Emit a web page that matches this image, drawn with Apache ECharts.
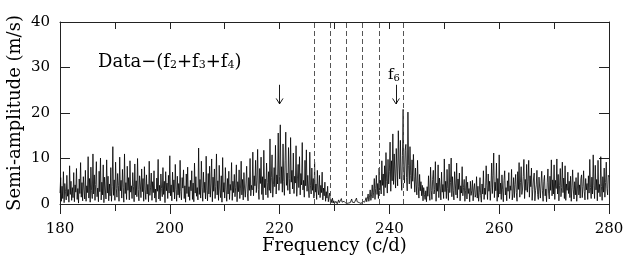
<!DOCTYPE html>
<html>
<head>
<meta charset="utf-8">
<script src="https://cdn.jsdelivr.net/npm/echarts@6/dist/echarts.min.js"></script>
<style>html,body{margin:0;padding:0;background:#fff;}#c{width:624px;height:260px;}</style>
</head>
<body>
<div id="c"></div>
<script>
// Frequency range of the amplitude spectrum (c/d)
const freqStart = 180;
const freqEnd = 280;
// Semi-amplitude (m/s), 40 values per 5 c/d
const amplitude = [
  2.4,5.8,0.6,3.9,1.2,7.1,0.3,4.5,2.8,0.9,6.3,1.7,3.2,0.4,8.4,2.1,5.0,0.8,3.6,1.4,
  6.9,0.5,4.2,2.6,7.8,1.0,3.4,0.2,5.5,2.3,9.1,1.5,4.7,0.7,6.0,3.1,1.1,7.4,0.6,4.0,
  2.5,10.4,1.3,5.6,0.4,8.1,3.0,1.2,11.0,2.2,6.4,0.8,4.3,9.3,1.6,3.5,0.5,7.2,2.7,10.1,
  0.9,4.8,2.0,8.6,0.3,5.9,3.3,1.1,9.7,2.4,6.1,0.7,4.4,1.8,8.0,0.6,3.8,12.6,1.9,5.3,
  0.8,9.2,3.4,1.5,6.7,4.1,0.6,10.3,2.9,5.2,1.3,7.6,3.6,0.4,11.0,2.3,4.7,1.0,8.3,3.0,
  5.8,0.9,9.5,2.6,4.0,1.2,6.9,3.8,0.5,8.8,2.0,5.1,1.6,10.0,3.2,0.7,6.2,4.4,1.4,7.7,
  2.7,5.6,0.6,8.2,3.1,1.0,6.4,2.2,4.3,0.5,9.4,1.9,3.7,6.8,0.8,4.9,2.5,7.3,1.3,3.3,
  0.4,5.7,2.8,9.8,1.1,4.1,0.7,6.6,3.4,1.6,8.0,2.1,5.0,0.3,7.1,2.9,4.6,1.2,6.3,2.4,
  10.6,1.8,4.2,0.7,7.0,2.6,5.3,1.1,8.7,3.2,0.6,6.1,2.0,4.5,1.4,9.6,2.8,0.9,5.8,3.5,
  7.5,1.2,4.0,0.4,6.6,2.3,8.1,1.6,3.8,0.8,5.2,2.9,7.3,1.0,4.6,0.5,9.0,2.4,6.0,1.7,
  3.6,0.9,12.3,2.1,5.4,1.3,9.4,3.7,0.6,7.0,2.5,4.8,1.1,10.5,3.0,0.7,6.7,2.2,8.3,1.5,
  4.4,9.9,0.5,5.9,2.8,7.7,1.2,3.9,11.0,2.0,5.1,0.8,8.5,3.3,1.4,6.2,0.4,10.2,2.6,4.7,
  1.3,8.0,3.1,0.6,5.6,2.2,7.2,1.0,4.3,3.0,9.1,0.8,5.0,2.5,6.5,1.6,3.7,8.6,0.5,4.9,
  2.7,7.5,1.2,3.5,9.4,2.0,5.4,0.9,6.9,3.3,1.5,4.6,8.3,2.4,0.7,5.8,3.0,10.0,1.8,4.1,
  3.1,11.4,1.8,6.2,4.0,9.6,2.5,5.1,12.0,3.2,1.0,7.8,4.5,10.3,2.1,6.0,0.9,11.8,3.6,5.5,
  2.0,9.0,4.7,1.4,7.1,3.0,14.3,2.4,5.8,10.8,1.5,4.2,8.0,3.8,12.9,2.2,6.4,4.4,15.6,3.0,
  6.0,17.4,4.5,8.2,2.6,13.2,5.0,1.9,9.5,15.8,4.1,6.8,3.0,12.4,5.6,2.2,14.6,4.8,7.4,3.3,
  11.2,2.3,6.1,4.6,12.8,1.7,5.5,8.7,3.6,10.4,2.0,6.7,4.2,13.5,3.1,5.2,1.5,9.6,4.0,11.9,
  2.8,6.3,3.5,1.4,11.4,4.0,2.2,7.9,3.0,5.6,1.3,9.2,2.6,4.4,1.0,7.4,3.1,2.0,6.3,1.4,
  4.1,2.5,7.0,0.9,3.5,1.8,4.8,0.6,2.7,1.3,3.9,0.5,1.6,2.4,0.4,1.0,0.3,1.3,0.2,0.7,
  0.1,0.3,0.6,0.2,0.05,0.4,0.9,0.3,0.1,0.5,1.2,0.4,0.1,0.2,0.6,0.8,0.2,0.1,0.3,0.1,
  0.2,0.4,0.1,0.3,0.7,1.1,0.4,0.1,0.2,0.3,0.1,0.6,1.3,0.5,0.2,0.8,0.3,0.1,0.2,0.1,
  0.3,0.6,0.2,1.0,0.4,0.7,1.4,0.5,0.9,2.2,0.6,1.5,3.1,0.8,2.0,4.2,1.3,2.6,5.6,1.0,
  3.4,6.3,2.1,4.5,1.2,7.9,3.0,5.2,2.2,9.5,4.1,6.6,1.8,8.4,3.6,11.3,5.0,2.4,9.8,4.4,
  7.2,13.6,2.8,9.5,5.1,15.4,4.3,11.0,6.8,3.5,12.2,7.7,4.0,16.1,8.8,5.5,14.0,6.2,3.0,10.6,
  20.8,7.4,4.6,11.8,13.1,5.8,2.9,20.2,8.5,4.4,12.6,6.3,3.4,9.7,5.0,10.9,6.1,2.6,7.9,4.2,
  2.0,9.6,3.8,1.3,6.5,2.9,4.9,1.8,4.1,0.7,3.6,2.1,1.0,2.9,0.5,3.8,1.7,6.2,2.4,0.8,
  8.1,3.0,1.0,5.4,7.4,2.2,3.2,9.3,0.6,4.6,2.8,8.6,1.4,5.7,3.5,0.9,7.0,2.6,4.3,1.2,
  9.9,2.7,5.0,1.2,7.6,3.4,0.8,8.8,2.5,4.7,10.1,1.6,6.0,3.0,0.9,7.1,4.4,2.0,9.0,1.3,
  5.5,3.2,6.8,0.7,4.0,2.4,8.2,1.8,3.6,5.4,0.6,2.9,6.1,1.1,4.8,2.3,3.4,0.5,5.0,1.9,
  2.9,5.2,0.7,3.3,4.5,1.5,2.0,6.0,1.3,3.9,0.6,2.6,5.8,1.8,0.4,4.4,2.2,7.3,1.0,3.5,
  2.1,8.4,4.0,1.0,6.6,2.8,5.0,0.8,3.7,9.0,2.3,6.2,11.2,1.4,4.8,2.9,9.0,0.6,5.6,1.5,
  10.8,2.2,4.6,1.0,6.4,3.1,0.5,5.2,7.3,2.0,3.6,0.7,5.1,2.8,6.9,1.2,4.0,3.0,7.6,0.9,
  2.4,5.8,1.4,4.3,6.5,2.5,0.6,7.1,3.2,9.1,1.5,4.7,8.2,2.1,3.3,6.0,9.8,1.2,5.4,3.0,
  8.7,2.6,4.9,9.6,1.5,6.2,3.8,7.9,0.8,3.2,5.5,6.8,0.7,2.9,4.2,7.4,2.1,1.0,5.9,3.5,
  1.3,4.6,7.2,2.9,0.6,5.0,6.3,1.8,3.3,0.5,4.8,7.7,2.4,1.1,6.1,3.0,9.7,1.8,5.3,2.2,
  8.6,1.0,5.2,3.4,9.9,2.2,6.5,0.7,4.1,7.8,1.6,3.6,9.2,2.5,5.7,1.2,8.4,0.8,4.4,3.0,
  7.0,2.3,5.0,1.4,6.1,0.6,3.7,7.5,3.1,1.1,4.9,2.0,5.8,0.6,3.3,6.9,2.0,4.2,1.3,5.5,
  6.4,1.4,3.8,7.3,2.7,0.9,5.6,3.1,4.5,1.0,6.2,2.4,9.8,3.6,1.2,5.9,2.2,10.8,4.0,1.2,
  8.5,3.1,5.4,0.7,9.6,2.5,4.3,1.6,10.4,3.8,0.8,6.0,2.6,7.9,1.5,4.7,9.2,3.4,2.0,6.3,
  6.0
];
// Dashed reference frequencies (c/d)
const dashedFreqs = [226.4, 229.3, 232.2, 235.1, 238.1, 242.5];
// Arrow markers: frequency, tail amplitude, head amplitude
const arrowFreqs = [220.0, 241.2];
const arrowTop = 26.2;
const arrowTip = 22.0;
// Axis ticks
const xTicks = [180, 200, 220, 240, 260, 280];
const yTicks = [0, 10, 20, 30, 40];

const freqStep = (freqEnd - freqStart) / (amplitude.length - 1);
const seriesData = amplitude.map((v, i) => [freqStart + i * freqStep, v]);

const arrowLines = [];
arrowFreqs.forEach(f => {
  arrowLines.push([{coord: [f, arrowTop]}, {coord: [f, arrowTip]}]);
  arrowLines.push([{coord: [f - 0.62, arrowTip + 1.2]}, {coord: [f, arrowTip]}]);
  arrowLines.push([{coord: [f + 0.62, arrowTip + 1.2]}, {coord: [f, arrowTip]}]);
});

const FONT = 'DejaVu Serif';
const AX = '#222';
const chart = echarts.init(document.getElementById('c'), null, {renderer: 'canvas'});
chart.setOption({
  animation: false,
  backgroundColor: '#fff',
  grid: {left: 60, right: 15, top: 22, bottom: 56, containLabel: false, outerBoundsMode: 'none'},
  xAxis: [{
    type: 'value', min: xTicks[0], max: xTicks[xTicks.length - 1], interval: 20,
    axisLine: {show: true, lineStyle: {color: AX, width: 1}},
    axisTick: {show: true, inside: false, length: 10, lineStyle: {color: AX}},
    minorTick: {show: true, splitNumber: 2, length: 7, lineStyle: {color: AX}},
    splitLine: {show: false},
    axisLabel: {fontFamily: FONT, fontSize: 15, color: '#000', margin: 18},
    name: 'Frequency (c/d)', nameLocation: 'middle', nameGap: 33, nameMoveOverlap: false,
    nameTextStyle: {fontFamily: FONT, fontSize: 18, color: '#000'}
  }, {
    type: 'value', position: 'top', min: xTicks[0], max: xTicks[xTicks.length - 1], interval: 10,
    axisLine: {show: true, onZero: false, lineStyle: {color: AX, width: 1}},
    axisTick: {show: true, inside: true, length: 7, lineStyle: {color: AX}},
    axisLabel: {show: false}, splitLine: {show: false}
  }],
  yAxis: [{
    type: 'value', min: yTicks[0], max: yTicks[yTicks.length - 1], interval: 10,
    axisLine: {show: true, lineStyle: {color: AX, width: 1}},
    axisTick: {show: true, inside: true, length: 10, lineStyle: {color: AX}},
    splitLine: {show: false},
    axisLabel: {fontFamily: FONT, fontSize: 15, color: '#000', margin: 10},
    name: 'Semi-amplitude (m/s)', nameLocation: 'middle', nameGap: 36, nameMoveOverlap: false,
    nameTextStyle: {fontFamily: FONT, fontSize: 18, color: '#000'}
  }, {
    type: 'value', position: 'right', min: yTicks[0], max: yTicks[yTicks.length - 1], interval: 10,
    axisLine: {show: true, onZero: false, lineStyle: {color: AX, width: 1}},
    axisTick: {show: true, inside: true, length: 10, lineStyle: {color: AX}},
    axisLabel: {show: false}, splitLine: {show: false}
  }],
  series: [{
    type: 'line', xAxisIndex: 0, yAxisIndex: 0,
    data: seriesData, showSymbol: false, symbol: 'none', sampling: false,
    lineStyle: {color: '#000', width: 0.8},
    z: 3,
    markLine: {
      silent: true, symbol: ['none', 'none'], label: {show: false},
      lineStyle: {color: '#555', type: [5, 3], width: 1},
      data: dashedFreqs.map(f => ({xAxis: f}))
    }
  }, {
    type: 'line', xAxisIndex: 0, yAxisIndex: 0, data: [],
    markLine: {
      silent: true, symbol: ['none', 'none'], label: {show: false},
      lineStyle: {color: '#000', type: 'solid', width: 0.9},
      data: arrowLines
    }
  }],
  graphic: [{
    type: 'text', left: 98, top: 53,
    style: {
      text: '{m|Data−(f}{s|2}{m|+f}{s|3}{m|+f}{s|4}{m|)}',
      rich: {
        m: {fontFamily: FONT, fontSize: 18, fill: '#000', verticalAlign: 'bottom', lineHeight: 21},
        s: {fontFamily: FONT, fontSize: 11, fill: '#000', verticalAlign: 'bottom', lineHeight: 16}
      }
    }
  }, {
    type: 'text', left: 388, top: 68,
    style: {
      text: '{m|f}{s|6}',
      rich: {
        m: {fontFamily: FONT, fontSize: 15, fill: '#000', verticalAlign: 'bottom', lineHeight: 18},
        s: {fontFamily: FONT, fontSize: 10, fill: '#000', verticalAlign: 'bottom', lineHeight: 14}
      }
    }
  }]
});
</script>
</body>
</html>
